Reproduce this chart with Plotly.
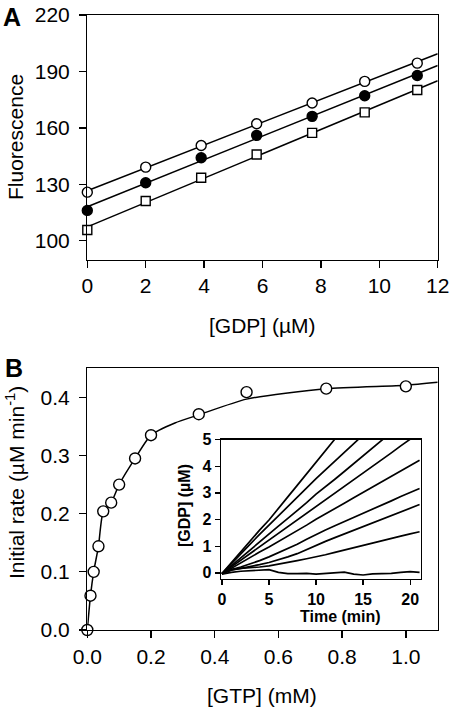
import numpy as np
import plotly.graph_objects as go

# ---------------- Panel A data ----------------
GDP_UM = [0, 2.0, 3.9, 5.8, 7.7, 9.5, 11.3]
FLUOR_OPEN = [125.8, 139.1, 150.6, 162.2, 173.2, 184.7, 194.4]
FLUOR_FILLED = [116.1, 130.8, 144.1, 156.0, 166.1, 177.1, 187.8]
FLUOR_SQUARE = [105.7, 121.1, 133.5, 145.8, 157.3, 168.2, 180.1]
A_XTICKS = [0, 2, 4, 6, 8, 10, 12]
A_YTICKS = [100, 130, 160, 190, 220]

# ---------------- Panel B data ----------------
GTP_MM = [0, 0.01, 0.02, 0.035, 0.05, 0.075, 0.1, 0.15, 0.2, 0.35, 0.5, 0.75, 1.0]
RATE = [0, 0.059, 0.100, 0.144, 0.204, 0.219, 0.250, 0.295, 0.335, 0.371, 0.409, 0.415, 0.419]
CURVE_X = [0, 0.01, 0.02, 0.035, 0.05, 0.075, 0.1, 0.15, 0.2, 0.275, 0.35, 0.5, 0.75, 1.0, 1.1]
CURVE_Y = [0, 0.059, 0.100, 0.144, 0.204, 0.219, 0.250, 0.295, 0.335, 0.356, 0.370, 0.397, 0.415, 0.421, 0.426]
B_XTICKS = [0.0, 0.2, 0.4, 0.6, 0.8, 1.0]
B_YTICKS = [0.0, 0.1, 0.2, 0.3, 0.4]

# ---------------- Inset data (time courses) ----------------
TIME = [0, 1, 2, 3, 4, 5, 6, 7, 8, 9, 10, 11, 12, 13, 14, 15, 16, 17, 18, 19, 20, 21]
TRACES = [
    [-0.03, 0.38, 0.80, 1.21, 1.60, 1.98, 2.43, 2.85, 3.28, 3.72, 4.13, 4.58, 5.02, 5.45],
    [-0.03, 0.35, 0.72, 1.08, 1.44, 1.79, 2.15, 2.50, 2.84, 3.19, 3.53, 3.86, 4.18, 4.51, 4.84, 5.17],
    [-0.03, 0.27, 0.58, 0.88, 1.16, 1.45, 1.75, 2.04, 2.33, 2.63, 2.95, 3.22, 3.51, 3.80, 4.10, 4.40, 4.68, 4.98, 5.27],
    [-0.03, 0.22, 0.48, 0.74, 0.99, 1.24, 1.49, 1.75, 2.00, 2.24, 2.48, 2.74, 3.00, 3.25, 3.50, 3.75, 4.00, 4.25, 4.50, 4.76, 5.01, 5.26],
    [-0.03, 0.18, 0.38, 0.58, 0.78, 0.97, 1.17, 1.38, 1.58, 1.79, 2.01, 2.20, 2.40, 2.61, 2.82, 3.02, 3.22, 3.42, 3.62, 3.83, 4.03, 4.22],
    [-0.03, 0.12, 0.22, 0.33, 0.46, 0.60, 0.75, 0.91, 1.07, 1.26, 1.45, 1.61, 1.77, 1.92, 2.08, 2.23, 2.39, 2.55, 2.70, 2.86, 3.01, 3.16],
    [-0.03, 0.10, 0.17, 0.23, 0.31, 0.39, 0.49, 0.60, 0.72, 0.88, 1.04, 1.18, 1.32, 1.46, 1.59, 1.72, 1.86, 2.00, 2.14, 2.28, 2.42, 2.56],
    [-0.03, 0.12, 0.17, 0.19, 0.22, 0.26, 0.32, 0.39, 0.46, 0.53, 0.60, 0.68, 0.77, 0.86, 0.95, 1.04, 1.13, 1.22, 1.30, 1.38, 1.46, 1.54],
    [-0.05, 0.02, 0.06, 0.08, 0.10, 0.12, 0.02, -0.03, -0.03, -0.02, -0.05, -0.02, 0.00, 0.03, -0.05, -0.08, -0.04, -0.03, -0.02, 0.02, 0.05, 0.02],
]
INSET_XTICKS = [0, 5, 10, 15, 20]
INSET_YTICKS = [0, 1, 2, 3, 4, 5]

# ---------------- Layout geometry (pixels) ----------------
W, H = 450, 707
FONT = "Liberation Sans, Arial, sans-serif"


def xdom(l, r):
    return [l / W, r / W]


def ydom(top, bottom):
    return [1 - bottom / H, 1 - top / H]


fig = go.Figure()

# Panel A fits (least squares of the data)
xa = np.array(GDP_UM)
xfit = np.array([0, 12])
for ys in (FLUOR_OPEN, FLUOR_FILLED, FLUOR_SQUARE):
    k, b = np.polyfit(xa, np.array(ys), 1)
    fig.add_trace(go.Scatter(x=xfit, y=k * xfit + b, mode="lines",
                             line=dict(color="black", width=1.5),
                             xaxis="x", yaxis="y", showlegend=False, hoverinfo="skip"))

mk_line = dict(color="black", width=1.4)
fig.add_trace(go.Scatter(x=GDP_UM, y=FLUOR_OPEN, mode="markers",
                         marker=dict(symbol="circle", size=10, color="white", line=mk_line),
                         xaxis="x", yaxis="y", showlegend=False, cliponaxis=False))
fig.add_trace(go.Scatter(x=GDP_UM, y=FLUOR_FILLED, mode="markers",
                         marker=dict(symbol="circle", size=10, color="black", line=mk_line),
                         xaxis="x", yaxis="y", showlegend=False, cliponaxis=False))
fig.add_trace(go.Scatter(x=GDP_UM, y=FLUOR_SQUARE, mode="markers",
                         marker=dict(symbol="square", size=9, color="white", line=mk_line),
                         xaxis="x", yaxis="y", showlegend=False, cliponaxis=False))

# Panel B
fig.add_trace(go.Scatter(x=CURVE_X, y=CURVE_Y, mode="lines",
                         line=dict(color="black", width=1.5, shape="spline", smoothing=0.6),
                         xaxis="x2", yaxis="y2", showlegend=False, hoverinfo="skip"))
fig.add_trace(go.Scatter(x=GTP_MM, y=RATE, mode="markers",
                         marker=dict(symbol="circle", size=11, color="white", line=mk_line),
                         xaxis="x2", yaxis="y2", showlegend=False, cliponaxis=False))

# Inset
for tr in TRACES:
    fig.add_trace(go.Scatter(x=TIME[:len(tr)], y=tr, mode="lines",
                             line=dict(color="black", width=1.7),
                             xaxis="x3", yaxis="y3", showlegend=False, hoverinfo="skip"))

axis_common = dict(showgrid=False, zeroline=False, showline=True, linecolor="black",
                   linewidth=1.3, mirror=True, ticks="outside", ticklen=7, tickwidth=1.3,
                   tickcolor="black", automargin=False,
                   tickfont=dict(family=FONT, size=21, color="black"))

inset_common = dict(showgrid=False, zeroline=False, showline=True, linecolor="black",
                    linewidth=1.3, mirror=True, ticks="outside", ticklen=5, tickwidth=1.3,
                    tickcolor="black", automargin=False,
                    tickfont=dict(family=FONT, size=16, color="black", weight="bold"))

fig.update_layout(
    width=W, height=H,
    margin=dict(l=0, r=0, t=0, b=0, autoexpand=False),
    paper_bgcolor="white", plot_bgcolor="white",
    hovermode=False,
    xaxis=dict(domain=xdom(87.3, 437.7), range=[0, 12], tickvals=A_XTICKS,
               anchor="y", **axis_common),
    yaxis=dict(domain=ydom(15, 259.5), range=[90, 220], tickvals=A_YTICKS,
               anchor="x", ticklabelstandoff=5, **axis_common),
    xaxis2=dict(domain=xdom(87.3, 437.7), range=[0, 1.1], tickvals=B_XTICKS,
                tickformat=".1f", anchor="y2", **axis_common),
    yaxis2=dict(domain=ydom(368.3, 630), range=[0, 0.45], tickvals=B_YTICKS,
                tickformat=".1f", anchor="x2", ticklabelstandoff=5, **axis_common),
    xaxis3=dict(domain=xdom(221, 420.5), range=[-0.1, 21.1], tickvals=INSET_XTICKS,
                anchor="y3", **inset_common),
    yaxis3=dict(domain=ydom(439.5, 579), range=[-0.23, 5.0], tickvals=INSET_YTICKS,
                anchor="x3", **inset_common),
)

ann_font = dict(family=FONT, size=21, color="black")
bold_font = dict(family=FONT, size=16, color="black", weight="bold")
annotations = [
    dict(text="<b>A</b>", x=1 / W, y=1 - 1 / H, xanchor="left", yanchor="top",
         font=dict(family=FONT, size=25, color="black")),
    dict(text="<b>B</b>", x=3 / W, y=1 - 352 / H, xanchor="left", yanchor="top",
         font=dict(family=FONT, size=25, color="black")),
    dict(text="Fluorescence", x=15 / W, y=1 - 137 / H, textangle=-90,
         xanchor="center", yanchor="middle", font=ann_font),
    dict(text="[GDP] (µM)", x=262 / W, y=1 - 325 / H,
         xanchor="center", yanchor="middle", font=ann_font),
    dict(text="Initial rate (µM min<sup>-1</sup>)", x=15 / W, y=1 - 483 / H, textangle=-90,
         xanchor="center", yanchor="middle", font=ann_font),
    dict(text="[GTP] (mM)", x=262 / W, y=1 - 695 / H,
         xanchor="center", yanchor="middle", font=ann_font),
    dict(text="Time (min)", x=340 / W, y=1 - 616 / H,
         xanchor="center", yanchor="middle", font=bold_font),
    dict(text="[GDP] (µM)", x=185 / W, y=1 - 506 / H, textangle=-90,
         xanchor="center", yanchor="middle", font=bold_font),
]
for a in annotations:
    a.update(xref="paper", yref="paper", showarrow=False)
fig.update_layout(annotations=annotations)

fig.write_html(
    "out.html",
    config={"displayModeBar": False, "staticPlot": True},
    post_script="document.body.style.margin='0';document.body.style.padding='0';"
                "document.documentElement.style.overflow='hidden';",
)
